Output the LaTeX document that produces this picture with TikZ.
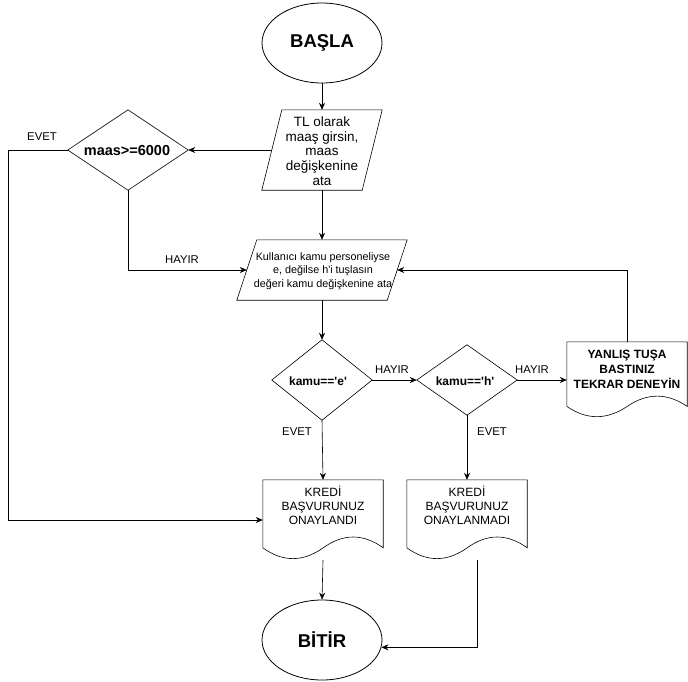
\documentclass[tikz,border=0pt]{standalone}
\usepackage{fontspec}
\setmainfont{Liberation Sans}
\usetikzlibrary{arrows.meta,calc,shapes.geometric}
\tikzset{
  base/.style={draw=none, inner sep=0pt, align=center},
  terminal/.style={ellipse, draw, line width=0.8pt, minimum width=120pt, minimum height=80pt, inner sep=0pt, font=\bfseries\fontsize{18.5}{22}\selectfont},
  box/.style={base, rectangle},
  txt/.style={base, font=\fontsize{12}{14}\selectfont},
  bigtxt/.style={base, font=\fontsize{13.5}{14.8}\selectfont},
  smalltxt/.style={base, font=\fontsize{10.8}{13.5}\selectfont},
  dtxt/.style={base, font=\bfseries\fontsize{12}{14}\selectfont},
  lbl/.style={base, font=\fontsize{11.3}{13}\selectfont},
  arr/.style={-{Stealth[length=7pt,width=6pt]}, line width=0.6pt},
  ln/.style={line width=0.6pt},
}
\newcommand\docshape[3]{%
  \draw[ln] (#1.north west) -- (#1.north east)
    -- ([shift={(0,{-0.85*#3})}]#1.north east)
    .. controls ([shift={({-#2/6},{-0.67*#3})}]#1.north east)
       and ([shift={({-#2/3},{-0.67*#3})}]#1.north east)
    .. ([shift={({-#2/2},{-0.85*#3})}]#1.north east)
    .. controls ([shift={({#2/3},{-1.03*#3})}]#1.north west)
       and ([shift={({#2/6},{-1.03*#3})}]#1.north west)
    .. ([shift={(0,{-0.85*#3})}]#1.north west) -- cycle;}
\newcommand\parashape[2]{%
  \draw[ln] ([xshift=#2]#1.north west) -- (#1.north east)
    -- ([xshift=-#2]#1.south east) -- (#1.south west) -- cycle;}
\newcommand\diashape[1]{%
  \draw[ln] (#1.north) -- (#1.east) -- (#1.south) -- (#1.west) -- cycle;}
\begin{document}
\begin{tikzpicture}[x=1pt,y=1pt]
\useasboundingbox (0,0) rectangle (688,-681);

% terminals
\node[terminal] (basla) at (322,-43) {BAŞLA};
\node[terminal] (bitir) at (322,-640) {BİTİR};

% parallelogram 1
\node[box, minimum width=120pt, minimum height=80pt] (p1) at (322,-150) {};
\parashape{p1}{20pt}
\node[bigtxt] (p1t) at (322,-151) {TL olarak\\maaş girsin,\\maas\\değişkenine\\ata};

% parallelogram 2
\node[box, minimum width=170pt, minimum height=60pt] (p2) at (322,-270) {};
\parashape{p2}{20pt}
\node[smalltxt] (p2t) at (323,-271) {Kullanıcı kamu personeliyse\\e, değilse h\textquotesingle i tuşlasın\\değeri kamu değişkenine ata};

% diamonds
\node[box, minimum width=120pt, minimum height=80pt] (maas) at (128,-150) {};
\diashape{maas}
\node[base, font=\bfseries\fontsize{14.5}{16}\selectfont] (maast) at (127,-151) {maas>=6000};

\node[box, minimum width=100pt, minimum height=80pt] (de) at (322,-380) {};
\diashape{de}
\node[dtxt] (det) at (318,-381) {kamu==\textquotesingle e\textquotesingle};

\node[box, minimum width=100pt, minimum height=70pt] (dh) at (467,-380) {};
\diashape{dh}
\node[dtxt] (dht) at (465,-381) {kamu==\textquotesingle h\textquotesingle};

% documents
\node[box, minimum width=120pt, minimum height=80pt] (d1) at (323,-520) {};
\docshape{d1}{120}{80}
\node[txt] (d1t) at ([yshift=-26pt]d1.north) {KREDİ\\BAŞVURUNUZ\\ONAYLANDI};

\node[box, minimum width=120pt, minimum height=80pt] (d2) at (467,-520) {};
\docshape{d2}{120}{80}
\node[txt] (d2t) at ([yshift=-26pt]d2.north) {KREDİ\\BAŞVURUNUZ\\ONAYLANMADI};

\node[box, minimum width=120pt, minimum height=76pt] (yan) at (627,-380) {};
\docshape{yan}{120}{76}
\node[base, font=\bfseries\fontsize{12}{15}\selectfont] (yant) at ([yshift=-28pt]yan.north) {YANLIŞ TUŞA\\BASTINIZ\\TEKRAR DENEYİN};

% connectors
\draw[arr] (basla.south) -- (p1.north);
\draw[arr] ([xshift=10pt]p1.west) -- (maas.east);
\draw[arr] (maas.west) -- ++(-60,0) |- (d1.west);
\draw[arr] (maas.south) |- ([xshift=10pt]p2.west);
\draw[arr] (p1.south) -- (p2.north);
\draw[arr] (p2.south) -- (de.north);
\draw[arr] (de.east) -- (dh.west);
\draw[arr] (dh.east) -- (yan.west);
\draw[arr] (yan.north) |- ([xshift=-10pt]p2.east);
\draw[arr] (de.south) -- (d1.north);
\draw[arr] (dh.south) -- (d2.north);
\draw[arr] (d1.south) -- (bitir.north);
\coordinate (c2) at (477,-560);
\draw[arr] (c2) |- (bitir.-7.7);

% labels
\node[lbl] (l1) at (42,-137) {EVET};
\node[lbl] (l2) at (182,-260) {HAYIR};
\node[lbl] (l3) at (392,-370) {HAYIR};
\node[lbl] (l4) at (532,-370) {HAYIR};
\node[lbl] (l5) at (297,-432) {EVET};
\node[lbl] (l6) at (492,-432) {EVET};
\end{tikzpicture}
\end{document}
